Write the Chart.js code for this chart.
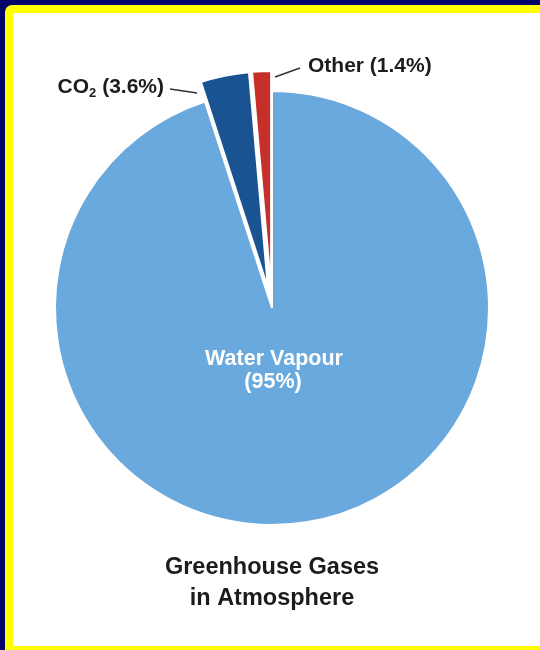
<!DOCTYPE html>
<html>
<head>
<meta charset="utf-8">
<script src="https://cdn.jsdelivr.net/npm/chart.js@4.4.1/dist/chart.umd.min.js"></script>
<style>
  html, body { margin: 0; padding: 0; width: 540px; height: 650px; overflow: hidden; background: #02026a; }
  #frame { position: absolute; left: 5px; top: 5px; width: 600px; height: 700px; background: #ffff00; border-radius: 7px; }
  #paper { position: absolute; left: 13px; top: 13px; width: 540px; height: 633px; background: #ffffff; }
  #chart { position: absolute; left: 0; top: 0; }
</style>
</head>
<body>
<div id="frame"></div>
<div id="paper"></div>
<canvas id="chart" width="540" height="650"></canvas>
<script>
// data
const gases = ['Water Vapour', 'CO2', 'Other'];
const shares = [95, 3.6, 1.4];
const titleLines = ['Greenhouse Gases', 'in Atmosphere'];

// styling
const sliceColors = ['#6aa9dd', '#1a5391', '#c6302a'];
const explode = [0, 20, 20]; // px each slice is pulled out
const FONT = "'Liberation Sans', Arial, Helvetica, sans-serif";
const INK = '#1c1c1c';

// pull the small slices out without growing them (chart.js offset also enlarges the arc)
const explodePlugin = {
    id: 'explode',
    afterDatasetsUpdate(chart) {
        const meta = chart.getDatasetMeta(0);
        meta.data.forEach((arc, i) => {
            const d = explode[i];
            if (!d) return;
            const mid = (arc.startAngle + arc.endAngle) / 2;
            arc.x += Math.cos(mid) * d;
            arc.y += Math.sin(mid) * d;
        });
    }
};

// slice labels + leader lines
const labelPlugin = {
    id: 'sliceLabels',
    afterDatasetsDraw(chart) {
        const ctx = chart.ctx;
        const arcs = chart.getDatasetMeta(0).data;
        ctx.save();

        // water vapour, inside the big slice below the centre
        const wv = arcs[0];
        ctx.fillStyle = '#ffffff';
        ctx.font = 'bold 21.5px ' + FONT;
        ctx.textAlign = 'center';
        ctx.textBaseline = 'alphabetic';
        ctx.fillText(gases[0], wv.x + 2, wv.y + 57);
        ctx.fillText('(' + shares[0] + '%)', wv.x + 1, wv.y + 80);

        ctx.strokeStyle = '#333333';
        ctx.lineWidth = 1.5;

        // CO2 label, left of its slice
        ctx.beginPath();
        ctx.moveTo(170, 89);
        ctx.lineTo(197, 93);
        ctx.stroke();

        ctx.fillStyle = INK;
        ctx.textAlign = 'left';
        const big = 'bold 21px ' + FONT;
        const small = 'bold 13px ' + FONT;
        const rest = ' (' + shares[1] + '%)';
        ctx.font = big;
        const wCO = ctx.measureText('CO').width;
        const wRest = ctx.measureText(rest).width;
        ctx.font = small;
        const w2 = ctx.measureText('2').width;
        let x = 164 - (wCO + w2 + wRest);
        ctx.font = big;
        ctx.fillText('CO', x, 93);
        x += wCO;
        ctx.font = small;
        ctx.fillText('2', x, 97);
        x += w2;
        ctx.font = big;
        ctx.fillText(rest, x, 93);

        // Other label, right of its slice
        ctx.beginPath();
        ctx.moveTo(275, 77);
        ctx.lineTo(300, 68);
        ctx.stroke();
        ctx.fillText(gases[2] + ' (' + shares[2] + '%)', 308, 72);

        ctx.restore();
    }
};

const ctx = document.getElementById('chart').getContext('2d');
let myChart = new Chart(ctx, {
    type: 'pie',
    data: {
        labels: gases,
        datasets: [{
            data: shares,
            backgroundColor: sliceColors,
            borderColor: '#ffffff',
            borderWidth: 2
        }]
    },
    options: {
        responsive: false,
        animation: false,
        events: [],
        radius: 217,
        layout: {
            padding: { left: 20, right: 16, top: 63.6, bottom: 35.6 }
        },
        plugins: {
            legend: { display: false },
            tooltip: { enabled: false },
            title: {
                display: true,
                position: 'bottom',
                text: titleLines,
                color: INK,
                font: { family: FONT, size: 23.5, weight: 'bold', lineHeight: 1.32 },
                padding: 0
            }
        }
    },
    plugins: [explodePlugin, labelPlugin]
});
</script>
</body>
</html>
